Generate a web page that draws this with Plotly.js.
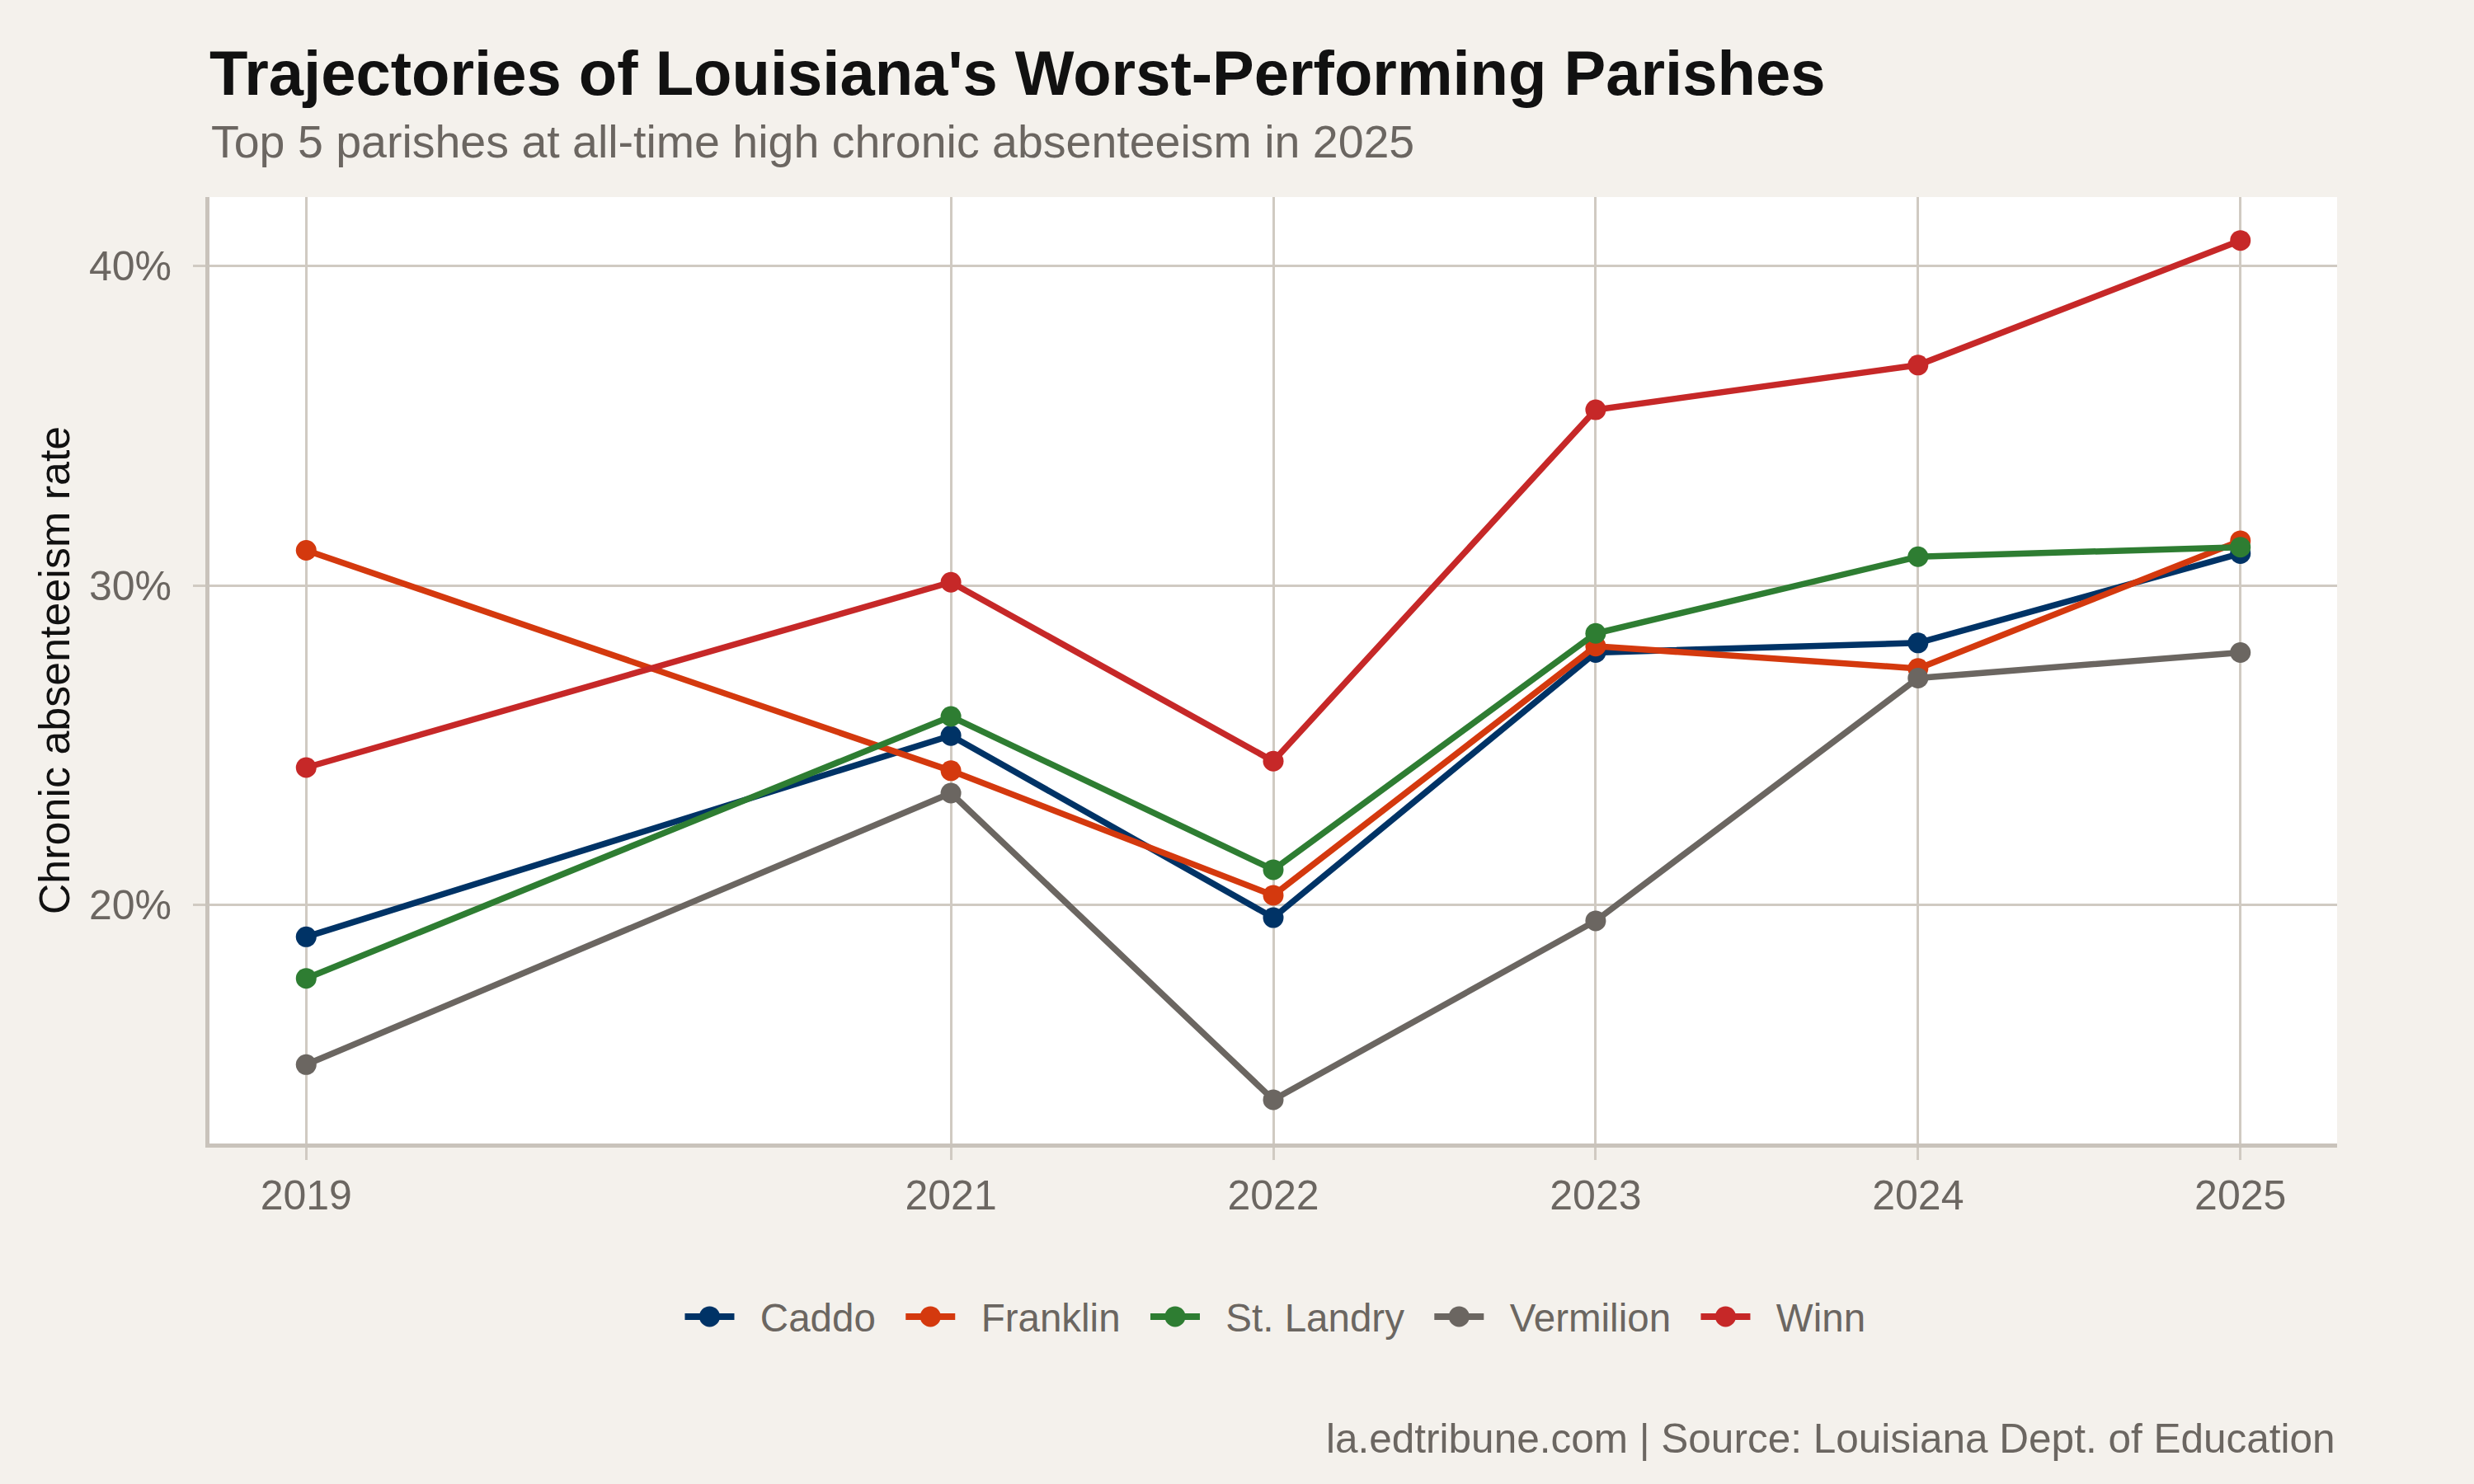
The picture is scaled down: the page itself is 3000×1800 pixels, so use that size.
<!DOCTYPE html>
<html>
<head>
<meta charset="utf-8">
<script src="https://cdn.plot.ly/plotly-3.0.1.min.js"></script>
<style>html,body{margin:0;padding:0;background:#F4F1EC;}</style>
</head>
<body>
<div id="chart" style="width:3000px;height:1800px;"></div>
<script>
const years = [2019, 2021, 2022, 2023, 2024, 2025];
const yearLabels = ['2019', '2021', '2022', '2023', '2024', '2025'];
const parishes = ['Caddo', 'Franklin', 'St. Landry', 'Vermilion', 'Winn'];
const caddo     = [19.0, 25.3, 19.6, 27.9, 28.2, 31.0];
const franklin  = [31.1, 24.2, 20.3, 28.1, 27.4, 31.4];
const stLandry  = [17.7, 25.9, 21.1, 28.5, 30.9, 31.2];
const vermilion = [15.0, 23.5, 13.9, 19.5, 27.1, 27.9];
const winn      = [24.3, 30.1, 24.5, 35.5, 36.9, 40.8];
const yTickVals = [20, 30, 40];
const yTickText = ['20%', '30%', '40%'];
const colors = ['#003366', '#D4390E', '#2E7D32', '#6B6661', '#C62828'];

const series = [caddo, franklin, stLandry, vermilion, winn];
const font = 'Liberation Sans, Helvetica, Arial, sans-serif';
const gray = '#6B6661';
const grid = '#D0CAC2';
const pad = '\u00a0\u00a0';

const traces = series.map((vals, i) => ({
  type: 'scatter',
  mode: 'lines+markers',
  name: pad + parishes[i] + pad,
  x: years,
  y: vals,
  line: {color: colors[i], width: 7.5},
  marker: {color: colors[i], size: 25},
  hoverinfo: 'skip'
}));

const layout = {
  width: 3000,
  height: 1800,
  paper_bgcolor: '#F4F1EC',
  plot_bgcolor: '#FFFFFF',
  margin: {l: 254, r: 166, t: 239, b: 413, autoexpand: false},
  font: {family: font, color: gray},
  title: {
    text: "<b>Trajectories of Louisiana's Worst-Performing Parishes</b>",
    font: {family: font, size: 76, color: '#111111'},
    xref: 'container', yref: 'container',
    x: 254 / 3000, xanchor: 'left',
    y: 1 - 88 / 1800, yanchor: 'middle'
  },
  xaxis: {
    type: 'linear',
    range: [2018.7, 2025.3],
    tickvals: years,
    ticktext: yearLabels,
    showgrid: true, gridcolor: grid, gridwidth: 3,
    zeroline: false,
    showline: true, linecolor: '#C9C3BB', linewidth: 5,
    ticks: 'outside', ticklen: 15, tickwidth: 3, tickcolor: grid,
    tickfont: {family: font, size: 50, color: gray},
    ticklabelstandoff: 0
  },
  yaxis: {
    range: [12.53, 42.16],
    tickvals: yTickVals,
    ticktext: yTickText,
    showgrid: true, gridcolor: grid, gridwidth: 3,
    zeroline: false,
    showline: true, linecolor: '#C9C3BB', linewidth: 5,
    ticks: 'outside', ticklen: 15, tickwidth: 3, tickcolor: grid,
    tickfont: {family: font, size: 50, color: gray},
    ticklabelstandoff: 16,
    title: {text: 'Chronic absenteeism rate', font: {family: font, size: 52, color: '#111111'}, standoff: 8}
  },
  showlegend: true,
  legend: {
    orientation: 'h',
    x: 0.506, xanchor: 'center',
    y: -0.183, yanchor: 'middle',
    font: {family: font, size: 47.5, color: gray},
    bgcolor: 'rgba(0,0,0,0)',
    itemwidth: 60
  },
  annotations: [
    {
      text: 'Top 5 parishes at all-time high chronic absenteeism in 2025',
      xref: 'paper', yref: 'paper', x: 0, y: (1387 - 172) / 1148,
      xanchor: 'left', yanchor: 'middle', showarrow: false,
      font: {family: font, size: 55.5, color: gray}
    },
    {
      text: 'la.edtribune.com | Source: Louisiana Dept. of Education',
      xref: 'paper', yref: 'paper', x: 1, y: (1387 - 1744) / 1148,
      xanchor: 'right', yanchor: 'middle', showarrow: false,
      font: {family: font, size: 49.5, color: gray}
    }
  ]
};

Plotly.newPlot('chart', traces, layout, {displayModeBar: false, staticPlot: true}).then(() => {
  const r = 12.5;
  const circle = 'M' + r + ',0A' + r + ',' + r + ' 0 1,1 0,-' + r + 'A' + r + ',' + r + ' 0 0,1 ' + r + ',0Z';
  document.querySelectorAll('.legend .traces').forEach(g => {
    g.querySelectorAll('path.js-line').forEach(p => { p.style.strokeWidth = '8px'; });
    g.querySelectorAll('path.scatterpts').forEach(p => { p.setAttribute('d', circle); });
  });
});
</script>
</body>
</html>
